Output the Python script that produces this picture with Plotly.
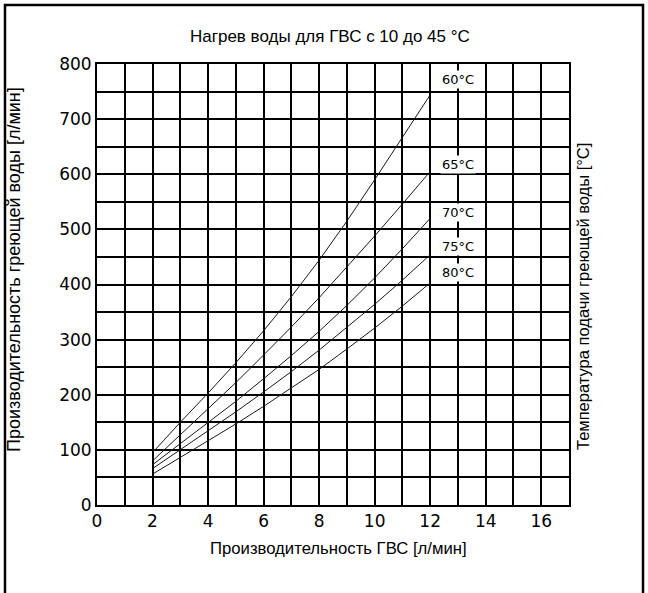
import plotly.graph_objects as go

# Data
x_flow = [2, 3, 4, 5, 6, 7, 8, 9, 10, 11, 12]
y_60 = [95, 150, 203, 258, 316, 378, 444, 515, 590, 667, 744]
y_65 = [80, 127, 174, 222, 272, 323, 376, 431, 488, 546, 605]
y_70 = [73, 111, 149, 188, 229, 271, 315, 362, 412, 465, 520]
y_75 = [66, 100, 134, 169, 205, 242, 281, 322, 364, 408, 454]
y_80 = [56, 86, 116, 147, 179, 212, 246, 283, 321, 361, 403]

series = [("60°C", y_60), ("65°C", y_65), ("70°C", y_70), ("75°C", y_75), ("80°C", y_80)]
label_x = 13
label_y = [771, 617, 530, 469, 421]

x_ticks = [0, 2, 4, 6, 8, 10, 12, 14, 16]
y_ticks = [0, 100, 200, 300, 400, 500, 600, 700, 800]

title = "Нагрев воды для ГВС с 10 до 45 °C"
x_title = "Производительность ГВС [л/мин]"
y_title = "Производительность греющей воды [л/мин]"
y2_title = "Температура подачи греющей воды [°C]"

W, H = 648, 593
L, R, T, B = 97, 79, 64, 88
pw, ph = W - L - R, H - T - B


def px(xp):
    return (xp - L) / pw


def py(yp):
    return (H - B - yp) / ph


fig = go.Figure()
for name, ys in series:
    fig.add_trace(go.Scatter(x=x_flow, y=ys, mode="lines", name=name,
                             line=dict(color="#1a1a1a", width=1), showlegend=False))

for (name, _), ly in zip(series, label_y):
    fig.add_annotation(x=label_x, y=ly, text=name, showarrow=False,
                       bgcolor="white", borderpad=1, xanchor="center", yanchor="middle",
                       font=dict(family="DejaVu Sans", size=13, color="black"))

tickfont = dict(family="DejaVu Sans", size=17, color="black")
fig.update_xaxes(range=[0, 17], tickmode="array", tickvals=x_ticks,
                 ticktext=[str(v) for v in x_ticks],
                 showgrid=True, gridcolor="black", gridwidth=1.8,
                 minor=dict(dtick=1, showgrid=True, gridcolor="black", gridwidth=1.8),
                 zeroline=False, showline=True, linecolor="black", linewidth=1.8, mirror=True,
                 ticks="", tickfont=tickfont, automargin=False)
fig.update_yaxes(range=[0, 800], tickmode="array", tickvals=y_ticks,
                 showgrid=True, gridcolor="black", gridwidth=1.8,
                 minor=dict(dtick=50, showgrid=True, gridcolor="black", gridwidth=1.8),
                 zeroline=False, showline=True, linecolor="black", linewidth=1.8, mirror=True,
                 ticks="", tickfont=tickfont, automargin=False)


def note(x, y, text, size, angle=0):
    fig.add_annotation(xref="paper", yref="paper", x=px(x), y=py(y), text=text,
                       xanchor="center", yanchor="middle", textangle=angle,
                       showarrow=False,
                       font=dict(family="Liberation Sans", size=size, color="black"))


note(330, 37, title, 17)
note(338, 548, x_title, 16.7)
note(14, 270, y_title, 18, -90)
note(583, 297, y2_title, 16.5, -90)

# outer frame
fig.add_shape(type="path", xref="paper", yref="paper",
              path=f"M {px(5)} {py(600)} L {px(5)} {py(5)} L {px(643)} {py(5)} L {px(643)} {py(600)}",
              line=dict(color="black", width=2.5))

fig.update_layout(width=W, height=H, margin=dict(l=L, r=R, t=T, b=B, autoexpand=False),
                  paper_bgcolor="white", plot_bgcolor="white", showlegend=False)

fig.write_html("out.html", config={"displayModeBar": False},
               post_script="document.body.style.margin='0px';document.body.style.overflow='hidden';")
